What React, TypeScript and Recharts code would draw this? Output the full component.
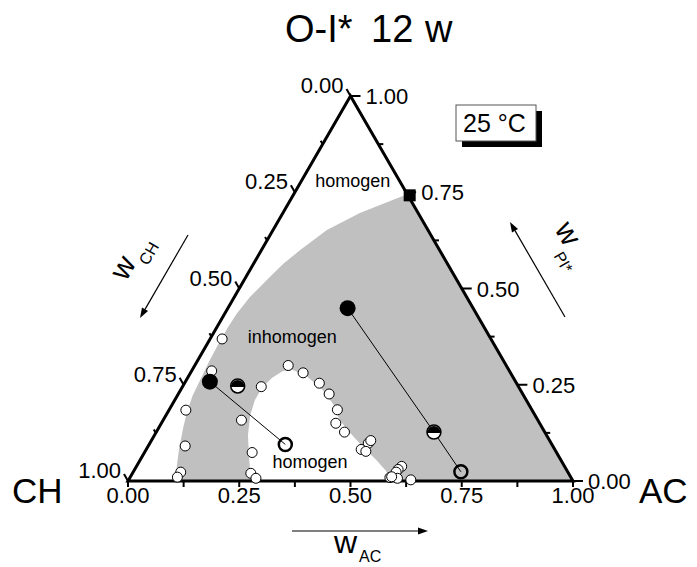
import React from 'react';
import { ScatterChart, Scatter, XAxis, YAxis } from 'recharts';

const FONT = '"Liberation Sans", Arial, Helvetica, sans-serif';
const W = 697;
const H = 567;

// Compositions are stored as [w_AC, w_PI*]; w_CH = 1 - w_AC - w_PI*.
type Comp = [number, number];

const vertices: Comp[] = [[0, 0], [1, 0], [0, 1]];
const axisTicks = [0, 0.125, 0.25, 0.375, 0.5, 0.625, 0.75, 0.875, 1];
const majorTicks = [0, 0.25, 0.5, 0.75, 1];

// cloud-point measurements
const cloudPoints: Comp[] = [
  [0.027, 0.369], [0.045, 0.286], [0.177, 0.245], [0.038, 0.184], [0.176, 0.158],
  [0.083, 0.091], [0.242, 0.074], [0.107, 0.023], [0.106, 0.01], [0.266, 0.02],
  [0.284, 0.007], [0.21, 0.3], [0.253, 0.281], [0.303, 0.254], [0.339, 0.226],
  [0.378, 0.185], [0.392, 0.15], [0.423, 0.127], [0.491, 0.098], [0.493, 0.105],
  [0.483, 0.082], [0.496, 0.077], [0.596, 0.038], [0.592, 0.03], [0.591, 0.023],
  [0.584, 0.009], [0.602, 0.007], [0.634, 0.003], [0.587, 0.011],
];

// coexisting phases and overall compositions of the tie lines
const richPhase: Comp[] = [[0.055, 0.258], [0.269, 0.449]];
const mixPoints: Comp[] = [[0.123, 0.247], [0.624, 0.127]];
const leanPhase: Comp[] = [[0.306, 0.095], [0.736, 0.024]];
const tieLines: Comp[][] = [
  [richPhase[0], leanPhase[0]],
  [richPhase[1], mixPoints[1], leanPhase[1]],
];
const plaitPoint: Comp[] = [[0.262, 0.742]];

// two-phase region: outer binodal (from the CH–AC side up to the PI*–AC side)
const outerBinodal: Comp[] = [
  [0.106, 0], [0.089, 0.042], [0.074, 0.081], [0.055, 0.138], [0.043, 0.179],
  [0.034, 0.223], [0.031, 0.262], [0.027, 0.314], [0.025, 0.358], [0.025, 0.4],
  [0.027, 0.436], [0.035, 0.478], [0.051, 0.522], [0.067, 0.564], [0.087, 0.6],
  [0.121, 0.652], [0.173, 0.696], [0.208, 0.717], [0.255, 0.745],
];
// inner binodal around the CH/AC-rich homogeneous pocket
const innerBinodal: Comp[] = [
  [0.276, 0], [0.245, 0.055], [0.21, 0.119], [0.189, 0.171], [0.18, 0.21],
  [0.18, 0.242], [0.19, 0.268], [0.205, 0.286], [0.227, 0.288], [0.264, 0.273],
  [0.316, 0.239], [0.361, 0.2], [0.397, 0.158], [0.437, 0.125], [0.484, 0.088],
  [0.53, 0.055], [0.567, 0.026], [0.593, 0],
];

const regionLabels: { at: Comp; text: string }[] = [
  { at: [0.123, 0.764], text: 'homogen' },
  { at: [0.19, 0.358], text: 'inhomogen' },
  { at: [0.392, 0.034], text: 'homogen' },
];

// ternary -> cartesian (x along the CH–AC side, y = w_PI*)
const toXY = (c: Comp) => ({ x: c[0] + c[1] / 2, y: c[1] });

const regionData = [...outerBinodal, [1, 0] as Comp, ...[...innerBinodal].reverse()].map(toXY);
const frameData = vertices.map(toXY);
const isMajor = (v: number) => majorTicks.includes(v);

const Nothing = () => <g />;

const PolyPath = (props: any) => {
  const pts = (props.points || []).filter((p: any) => p.x != null && p.y != null);
  if (!pts.length) return <g />;
  const d = pts.map((p: any, i: number) => `${i ? 'L' : 'M'}${p.x},${p.y}`).join(' ') + (props.closed ? ' Z' : '');
  return (
    <path
      d={d}
      fill={props.areaFill || 'none'}
      stroke={props.edge || 'none'}
      strokeWidth={props.edgeWidth || 0}
      strokeLinejoin="miter"
      strokeMiterlimit={10}
    />
  );
};

const OpenDot = (p: any) => <circle cx={p.cx} cy={p.cy} r={5} fill="#fff" stroke="#000" strokeWidth={1} />;
const FilledDot = (p: any) => <circle cx={p.cx} cy={p.cy} r={8} fill="#000" />;
const RingDot = (p: any) => <circle cx={p.cx} cy={p.cy} r={6.5} fill="none" stroke="#000" strokeWidth={2.5} />;
const HalfDot = (p: any) => {
  const r = 7;
  const { cx, cy } = p;
  return (
    <g>
      <circle cx={cx} cy={cy} r={r} fill="#fff" stroke="#000" strokeWidth={1.5} />
      <path d={`M${cx - r},${cy + 1} A${r},${r} 0 1 1 ${cx + r},${cy + 1} Z`} fill="#000" />
    </g>
  );
};
const SquareDot = (p: any) => <rect x={p.cx - 6} y={p.cy - 6} width={12} height={12} fill="#000" />;

const LeftTick = (p: any) => {
  const v = p.payload.v;
  const major = isMajor(v);
  const L = major ? 8 : 4;
  return (
    <g>
      <line x1={p.cx} y1={p.cy} x2={p.cx - L * 0.5} y2={p.cy - L * 0.866} stroke="#000" strokeWidth={2} />
      {major && (
        <text x={p.cx - 7} y={p.cy - 3} textAnchor="end" fontSize={22} fontFamily={FONT} fill="#000">
          {v.toFixed(2)}
        </text>
      )}
    </g>
  );
};

const RightTick = (p: any) => {
  const v = p.payload.v;
  const major = isMajor(v);
  const L = major ? 10 : 5;
  return (
    <g>
      <line x1={p.cx} y1={p.cy} x2={p.cx + L} y2={p.cy} stroke="#000" strokeWidth={2} />
      {major && (
        <text x={p.cx + 15} y={p.cy + 8} textAnchor="start" fontSize={22} fontFamily={FONT} fill="#000">
          {v.toFixed(2)}
        </text>
      )}
    </g>
  );
};

const RegionText = (p: any) => (
  <text x={p.cx} y={p.cy} textAnchor="middle" fontSize={18} fontFamily={FONT} fill="#000">
    {p.payload.text}
  </text>
);

const leftTickData = axisTicks.map((v) => ({ ...toXY([0, 1 - v]), v }));
const rightTickData = axisTicks.map((v) => ({ ...toXY([1 - v, v]), v }));
const labelData = regionLabels.map((l) => ({ ...toXY(l.at), text: l.text }));

const Arrow = ({ x1, y1, x2, y2 }: { x1: number; y1: number; x2: number; y2: number }) => {
  const dx = x2 - x1;
  const dy = y2 - y1;
  const len = Math.hypot(dx, dy);
  const ux = dx / len;
  const uy = dy / len;
  const hl = 10;
  const hw = 3.5;
  const bx = x2 - ux * hl;
  const by = y2 - uy * hl;
  return (
    <g>
      <line x1={x1} y1={y1} x2={bx} y2={by} stroke="#000" strokeWidth={1.2} />
      <polygon
        points={`${x2},${y2} ${bx - uy * hw},${by + ux * hw} ${bx + uy * hw},${by - ux * hw}`}
        fill="#000"
      />
    </g>
  );
};

export default function App() {
  return (
    <div style={{ position: 'absolute', left: 0, top: 0, width: W, height: H, background: '#fff' }}>
      <ScatterChart width={W} height={H} margin={{ top: 96, right: 124, bottom: 46, left: 128 }}>
        <XAxis
          type="number"
          dataKey="x"
          domain={[0, 1]}
          ticks={axisTicks}
          interval={0}
          axisLine={false}
          tickLine={{ stroke: '#000', strokeWidth: 2 }}
          tickSize={6}
          tickMargin={0}
          height={40}
          tick={{ fontSize: 22, fill: '#000', fontFamily: FONT }}
          tickFormatter={(v: number) => (isMajor(v) ? v.toFixed(2) : '')}
        />
        <YAxis type="number" dataKey="y" domain={[0, 1]} hide width={0} />

        <Scatter
          data={regionData}
          shape={Nothing}
          line={<PolyPath areaFill="#c0c0c0" closed />}
          isAnimationActive={false}
        />
        <Scatter
          data={frameData}
          shape={Nothing}
          line={<PolyPath edge="#000" edgeWidth={3} closed />}
          isAnimationActive={false}
        />
        {tieLines.map((t, i) => (
          <Scatter
            key={`tie-${i}`}
            data={t.map(toXY)}
            shape={Nothing}
            line={<PolyPath edge="#000" edgeWidth={1} />}
            isAnimationActive={false}
          />
        ))}
        <Scatter data={leftTickData} shape={LeftTick} isAnimationActive={false} />
        <Scatter data={rightTickData} shape={RightTick} isAnimationActive={false} />
        <Scatter data={cloudPoints.map(toXY)} shape={OpenDot} isAnimationActive={false} />
        <Scatter data={richPhase.map(toXY)} shape={FilledDot} isAnimationActive={false} />
        <Scatter data={mixPoints.map(toXY)} shape={HalfDot} isAnimationActive={false} />
        <Scatter data={leanPhase.map(toXY)} shape={RingDot} isAnimationActive={false} />
        <Scatter data={plaitPoint.map(toXY)} shape={SquareDot} isAnimationActive={false} />
        <Scatter data={labelData} shape={RegionText} isAnimationActive={false} />
      </ScatterChart>

      <svg
        width={W}
        height={H}
        style={{ position: 'absolute', left: 0, top: 0, pointerEvents: 'none' }}
        fontFamily={FONT}
      >
        <text x={285} y={42} fontSize={38} fill="#000">O-I*</text>
        <text x={371} y={42} fontSize={38} fill="#000">12</text>
        <text x={425} y={42} fontSize={38} fill="#000">w</text>

        <text x={12} y={503} fontSize={35} fill="#000">CH</text>
        <text x={639} y={503} fontSize={35} fill="#000">AC</text>

        <rect x={462} y={111} width={80} height={36} fill="#000" />
        <rect x={456} y={105} width={80} height={36} fill="#fff" stroke="#555" strokeWidth={1} />
        <text x={463} y={132} fontSize={25} fill="#000">25 °C</text>

        <Arrow x1={188} y1={235} x2={140} y2={318} />
        <text transform="translate(126,282) rotate(-60)" fontSize={30} fill="#000">
          w<tspan dx={3} dy={11} fontSize={16}>CH</tspan>
        </text>

        <Arrow x1={565} y1={317} x2={510} y2={222} />
        <text transform="translate(554,229) rotate(60)" fontSize={30} fill="#000">
          w<tspan dx={1} dy={14} fontSize={16}>PI*</tspan>
        </text>

        <Arrow x1={292} y1={531} x2={428} y2={531} />
        <text x={334} y={553} fontSize={32} fill="#000">
          w<tspan dx={2} dy={9} fontSize={16}>AC</tspan>
        </text>
      </svg>
    </div>
  );
}
